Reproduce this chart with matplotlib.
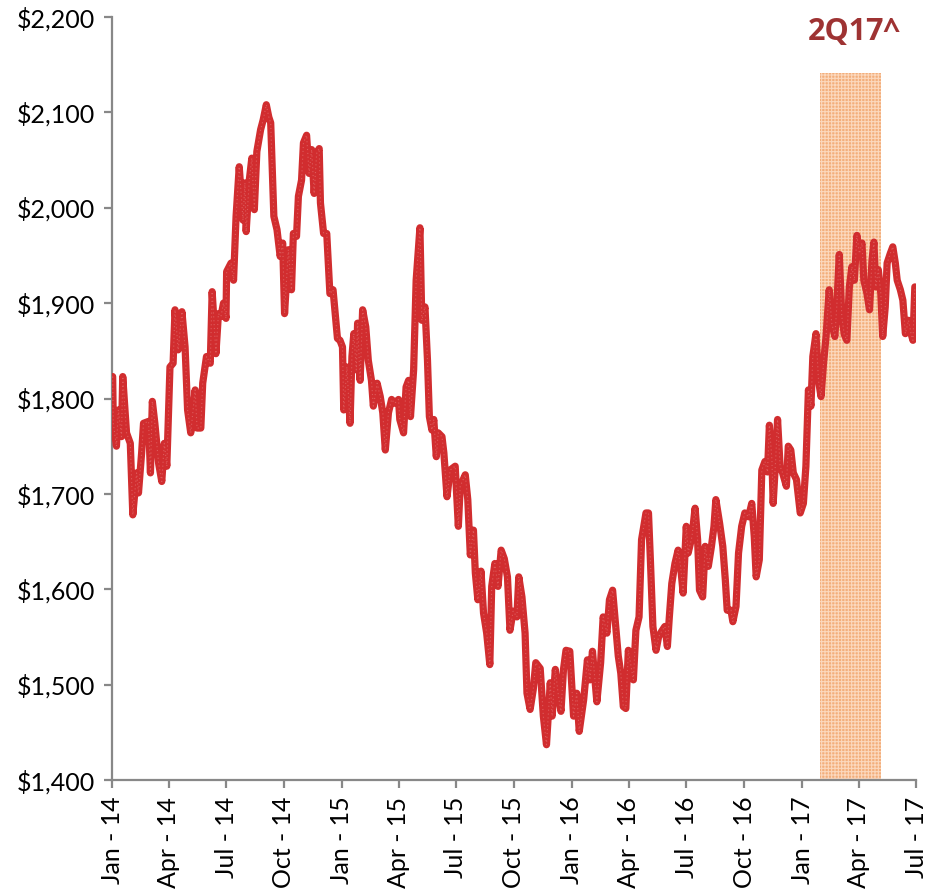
import numpy as np
import pandas as pd
import matplotlib
matplotlib.use("Agg")
import matplotlib.pyplot as plt
import matplotlib.dates as mdates

# Dias desde el 1 de enero de 2014 y precio
start = pd.Timestamp("2014-01-01")
days = [
    1, 2, 7, 10, 15, 17, 23, 29, 33, 39, 42, 47, 50, 58, 61, 64, 68, 74, 79, 83,
    87, 92, 97, 100, 105, 111, 116, 120, 125, 132, 135, 141, 144, 150, 156, 159,
    165, 169, 173, 177, 181, 182, 189, 193, 197, 202, 208, 211, 213, 218, 222,
    226, 230, 236, 240, 245, 249, 252, 255, 257, 262, 267, 271, 274, 280, 285,
    288, 293, 296, 301, 304, 309, 313, 317, 321, 325, 329, 331, 336, 341, 346,
    351, 358,
    362, 366, 368, 373, 378, 381, 384, 388, 390, 394, 398, 403, 407, 412, 415,
    421, 426, 430, 434, 439, 444, 449, 455, 457, 463, 467, 471, 474, 479, 483,
    489, 492, 497, 501, 504, 508, 511, 515, 518, 524, 527, 532, 537,
    545, 550, 553, 561, 565, 569, 574, 577, 581, 586, 590, 595, 600, 603, 608,
    613, 618, 623, 628, 632, 637, 643, 646, 651, 656, 659, 664, 669, 673, 680,
    685, 690, 696, 699, 704, 709, 713, 717, 721, 727,
    733, 738, 742, 749, 755, 759, 763, 770, 776, 780, 786, 790, 795, 799, 804,
    808, 812, 816, 820, 828, 832, 837, 841, 848, 852, 855, 859, 864, 868, 873,
    878, 882, 885, 889, 894, 899, 903, 907, 912, 915, 921, 926, 930, 933, 938,
    942, 947, 952, 956, 959, 965, 970, 974, 977, 983, 986, 991, 995, 1000, 1005,
    1011, 1016, 1020, 1023, 1028, 1032, 1037, 1041, 1044, 1048, 1050, 1054,
    1057, 1061, 1065, 1071, 1074, 1078, 1082, 1087, 1093,
    1098, 1102, 1106, 1110, 1113, 1118, 1122, 1126, 1130, 1134, 1139, 1143,
    1148, 1151, 1155, 1159, 1163, 1167, 1171, 1175, 1179, 1183, 1187, 1191,
    1194, 1199, 1203, 1207, 1210, 1213, 1217, 1221, 1224, 1228, 1231, 1236,
    1240, 1244, 1247, 1252, 1256, 1260, 1265, 1269, 1272, 1275,
]
price = [
    1823, 1774, 1750, 1788, 1760, 1823, 1764, 1753, 1678, 1722, 1701, 1743, 1774,
    1776, 1722, 1797, 1774, 1732, 1713, 1753, 1729, 1833, 1837, 1893, 1851, 1891,
    1854, 1788, 1764, 1809, 1769, 1769, 1816, 1844, 1837, 1912, 1847, 1889, 1886,
    1900, 1884, 1933, 1942, 1924, 1991, 2043, 1987, 2026, 1975, 2029, 2052, 1998,
    2059, 2082, 2092, 2108, 2095, 2089, 2029, 1991, 1977, 1949, 1963, 1889, 1956,
    1914, 1973, 1970, 2012, 2029, 2068, 2076, 2036, 2061, 2015, 2057, 2062, 2005,
    1973, 1973, 1910, 1914, 1863,
    1861, 1854, 1788, 1833, 1774, 1844, 1868, 1830, 1879, 1819, 1893, 1875, 1840,
    1819, 1792, 1816, 1802, 1785, 1746, 1785, 1799, 1795, 1799, 1778, 1764, 1812,
    1819, 1781, 1830, 1924, 1979, 1882, 1896, 1840, 1781, 1767, 1778, 1739, 1764,
    1760, 1743, 1697, 1725,
    1729, 1666, 1708, 1720, 1694, 1636, 1662, 1617, 1589, 1619, 1575, 1554, 1521,
    1603, 1627, 1603, 1641, 1632, 1613, 1557, 1577, 1571, 1613, 1592, 1554, 1491,
    1474, 1495, 1523, 1517, 1467, 1437, 1502, 1467, 1516, 1488, 1472, 1516, 1536,
    1535,
    1467, 1491, 1451, 1484, 1526, 1505, 1535, 1482, 1523, 1571, 1554, 1589, 1599,
    1568, 1530, 1512, 1477, 1475, 1536, 1505, 1557, 1571, 1652, 1680, 1680, 1631,
    1561, 1536, 1550, 1556, 1561, 1540, 1570, 1606, 1627, 1641, 1624, 1596, 1666,
    1638, 1655, 1685, 1652, 1599, 1592, 1645, 1624, 1645, 1666, 1694, 1669, 1645,
    1610, 1578, 1578, 1566, 1582, 1638, 1666, 1680, 1676, 1690, 1655, 1613, 1631,
    1725, 1734, 1723, 1772, 1736, 1690, 1736, 1778, 1729, 1722, 1708, 1750, 1746,
    1722, 1715, 1680,
    1690, 1729, 1809, 1792, 1844, 1868, 1819, 1802, 1837, 1865, 1914, 1879, 1865,
    1896, 1951, 1886, 1867, 1861, 1917, 1938, 1924, 1971, 1952, 1963, 1924, 1910,
    1893, 1945, 1964, 1917, 1935, 1910, 1865, 1896, 1942, 1952, 1959, 1942, 1924,
    1914, 1903, 1868, 1882, 1868, 1861, 1917,
]

# Periodo sombreado (2Q17)
shade_start = "2017-01-29"
shade_end = "2017-05-06"
shade_top = 2141

dates = start + pd.to_timedelta(days, unit="D")

plt.rcParams["font.family"] = ["Lato", "DejaVu Sans"]
plt.rcParams["hatch.linewidth"] = 0.8

fig = plt.figure(figsize=(9.29, 8.94), dpi=100)
ax = fig.add_axes([0.1206, 0.1275, 0.8655, 0.8535])

# Sombra naranja con textura
ax.fill_between(pd.to_datetime([shade_start, shade_end]), 1400, shade_top,
                facecolor="#f3ae7b", edgecolor="#fbd8bd", hatch="+++++",
                linewidth=0, zorder=1)

# Linea de precios
ax.plot(dates, price, color="#d12d2f", linewidth=5.2, solid_joinstyle="round",
        solid_capstyle="round", zorder=3)
ax.plot(dates, price, color="#e57a7a", linewidth=0.8, linestyle=(0, (1, 2.5)),
        zorder=4, alpha=0.6)

ax.text(pd.Timestamp("2017-03-24"), 2184, "2Q17^", color="#9e3333",
        fontsize=22, fontweight="bold", family=["Open Sans", "DejaVu Sans"],
        ha="center", va="center", clip_on=False)

ax.set_xlim(pd.Timestamp("2014-01-01"), pd.Timestamp("2017-07-01"))
ax.set_ylim(1400, 2200)
ax.set_yticks(np.arange(1400, 2201, 100))
ax.yaxis.set_major_formatter(plt.FuncFormatter(lambda v, p: f"${v:,.0f}"))

ax.xaxis.set_major_locator(mdates.MonthLocator(bymonth=[1, 4, 7, 10]))
ax.xaxis.set_major_formatter(mdates.DateFormatter("%b - %y"))
for lab in ax.get_xticklabels():
    lab.set_rotation(90)

for side in ["top", "right"]:
    ax.spines[side].set_visible(False)
for side in ["left", "bottom"]:
    ax.spines[side].set_color("#888888")
    ax.spines[side].set_linewidth(1.6)
ax.tick_params(axis="both", colors="#888888", width=1.6, length=6,
               labelcolor="black", labelsize=18)
ax.tick_params(axis="y", pad=6)
ax.tick_params(axis="x", pad=6)

fig.savefig("out.png", dpi=100)
